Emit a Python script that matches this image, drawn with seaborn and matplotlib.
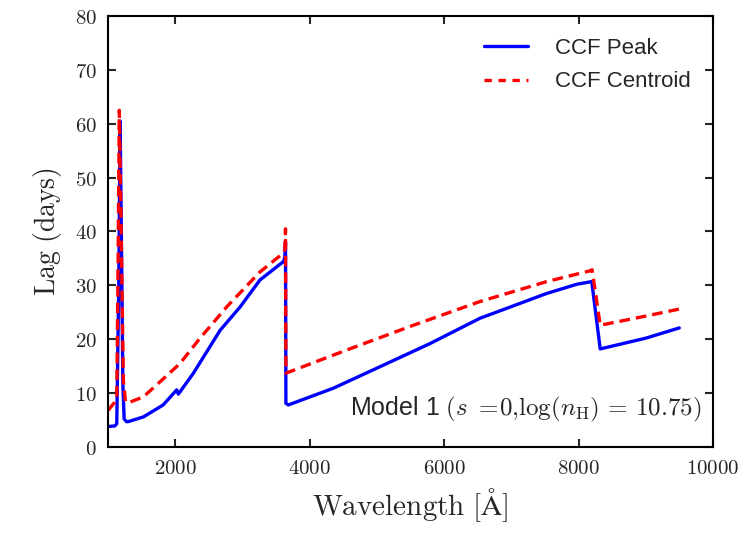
import numpy as np
import pandas as pd
import seaborn as sns
import matplotlib.pyplot as plt

# Lag spectrum (wavelength in Angstrom, lag in days)
wave_peak = [1000, 1100, 1130, 1160, 1180, 1203, 1220, 1240, 1275, 1300, 1530, 1820,
             2022, 2046, 2270, 2670, 2965, 3260, 3608, 3632, 3640, 3646, 3682,
             4350, 5046, 5790, 6534, 7526, 7972, 8195,
             8321, 9000, 9497]
lag_peak = [3.8, 3.9, 4.3, 30.0, 60.5, 34.0, 12.0, 5.2, 4.7, 4.7, 5.6, 7.8,
            10.6, 9.8, 13.7, 21.7, 26.0, 31.0, 34.4, 35.2, 38.0, 8.1, 7.8,
            10.9, 14.9, 19.2, 23.9, 28.5, 30.2, 30.7,
            18.2, 20.2, 22.1]

wave_cent = [1000, 1100, 1130, 1150, 1168, 1190, 1228, 1260, 1300, 1526, 1800,
             2071, 2369, 2765, 3261, 3608, 3632, 3640, 3646,
             4551, 5543, 6534, 7526, 8170, 8200,
             8321, 9000, 9497]
lag_cent = [6.8, 8.3, 9.0, 35.0, 62.5, 45.0, 12.4, 8.4, 8.2, 9.3, 12.4,
            15.5, 20.2, 26.0, 32.5, 36.0, 36.6, 40.5, 13.7,
            18.0, 22.6, 27.0, 30.7, 32.7, 32.9,
            22.6, 24.3, 25.6]

x_ticks = [2000, 4000, 6000, 8000, 10000]
y_ticks = list(range(0, 90, 10))

df = pd.concat([
    pd.DataFrame({"wave": wave_peak, "lag": lag_peak, "kind": "CCF Peak"}),
    pd.DataFrame({"wave": wave_cent, "lag": lag_cent, "kind": "CCF Centroid"}),
], ignore_index=True)

sns.set_style("ticks")
plt.rcParams["mathtext.fontset"] = "cm"

fig = plt.figure(figsize=(7.47, 5.33), dpi=100)
ax = fig.add_axes([0.1446, 0.1614, 0.81, 0.8086])

sns.lineplot(data=df, x="wave", y="lag", hue="kind", style="kind",
             palette={"CCF Peak": "#0000ff", "CCF Centroid": "#ff0000"},
             dashes={"CCF Peak": "", "CCF Centroid": (3.2, 1.8)},
             sort=False, estimator=None, linewidth=2.4, ax=ax, legend=False)

ax.set_xlim(1000, 10000)
ax.set_ylim(0, 80)
ax.set_xticks(x_ticks)
ax.set_yticks(y_ticks)
ax.set_xticklabels([f"${t}$" for t in x_ticks], fontsize=15)
ax.set_yticklabels([f"${t}$" for t in y_ticks], fontsize=15)
ax.tick_params(direction="in", length=6, width=1.5, top=True, right=True, pad=8)
for s in ax.spines.values():
    s.set_linewidth(1.5)
    s.set_color("black")

ax.set_xlabel(r"$\mathrm{Wavelength\ [\AA]}$", fontsize=21, labelpad=6)
ax.set_ylabel(r"$\mathrm{Lag\ (days)}$", fontsize=20, labelpad=8)

# legend with proxy lines
h1, = ax.plot([], [], color="#0000ff", lw=2.4, label="CCF Peak")
h2, = ax.plot([], [], color="#ff0000", lw=2.4, ls=(0, (2.2, 2.0)), label="CCF Centroid")
ax.legend(handles=[h1, h2], loc="upper right", frameon=False, handlelength=2.0,
          handletextpad=1.2, labelspacing=0.55, borderaxespad=0.6,
          prop={"family": "Liberation Sans", "size": 16})

ax.text(9820, 6.9, r"Model 1 $(s\ ={\!}0{,}\log(n_{\mathrm{H}})\,=\,10.75)$",
        ha="right", va="center", fontsize=18, family="Liberation Sans")

plt.savefig("out.png", dpi=100)
